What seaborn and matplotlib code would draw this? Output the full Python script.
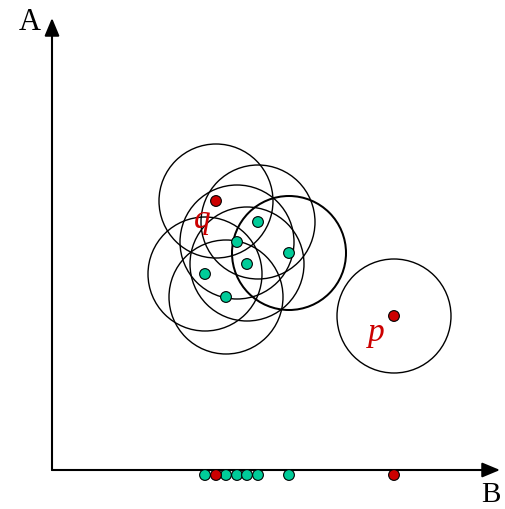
import matplotlib
matplotlib.use("Agg")
import matplotlib.pyplot as plt
from matplotlib.patches import Circle
import seaborn as sns
import pandas as pd

# Points in the (B, A) plane
green_b = [206, 185, 237, 195, 153, 174]
green_a = [248, 228, 217, 206, 196, 173]
q_point = (164, 269)
p_point = (342, 154)
radius = 57
thick_index = 2  # neighbourhood drawn with a heavier outline

GREEN = "#00CC99"
RED = "#CC0000"

sns.set_theme(style="white")
plt.rcParams["font.family"] = ["Liberation Serif", "DejaVu Serif"]

fig = plt.figure(figsize=(5.05, 5.10), dpi=100)
ax = fig.add_axes([0, 0, 1, 1])
ax.set_xlim(-52, 453)
ax.set_ylim(-39, 471)
ax.axis("off")

# Axes with arrow heads
arrow_kw = dict(arrowstyle="-|>,head_length=0.6,head_width=0.25", color="black",
                lw=1.5, mutation_scale=18, shrinkA=0, shrinkB=0)
ax.annotate("", xy=(0, 452), xytext=(0, 0), arrowprops=arrow_kw)
ax.annotate("", xy=(448, 0), xytext=(0, 0), arrowprops=arrow_kw)
ax.text(-22, 449, "A", fontsize=22, ha="center", va="center", color="black")
ax.text(439, -24, "B", fontsize=21, ha="center", va="center", color="black")

# Neighbourhood circles
centres = list(zip(green_b, green_a)) + [q_point, p_point]
for i, (cb, ca) in enumerate(centres):
    lw = 1.45 if i == thick_index else 1.0
    ax.add_patch(Circle((cb, ca), radius, fill=False, ec="black", lw=lw, zorder=2))

pts = pd.DataFrame({
    "B": green_b + [q_point[0], p_point[0]],
    "A": green_a + [q_point[1], p_point[1]],
    "kind": ["green"] * len(green_b) + ["red", "red"],
})
palette = {"green": GREEN, "red": RED}

sns.scatterplot(data=pts, x="B", y="A", hue="kind", palette=palette, s=60,
                edgecolor="black", linewidth=0.8, legend=False, ax=ax, zorder=4)

# Projections onto the B axis
proj = pts.assign(A=-5)
sns.scatterplot(data=proj, x="B", y="A", hue="kind", palette=palette, s=60,
                edgecolor="black", linewidth=0.8, legend=False, ax=ax, zorder=4)
ax.set_xlabel("")
ax.set_ylabel("")

ax.text(150, 251, "q", fontsize=24, style="italic", color=RED,
        ha="center", va="center", zorder=3)
ax.text(324, 138, "p", fontsize=24, style="italic", color=RED,
        ha="center", va="center", zorder=3)

fig.savefig("out.png", dpi=100, facecolor="white")
